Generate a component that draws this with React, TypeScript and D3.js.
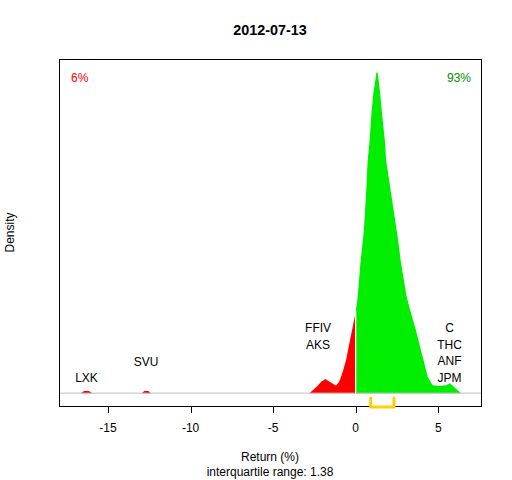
import React from "react";
import * as d3 from "d3";

const title = "2012-07-13";
const xTicks = [-15, -10, -5, 0, 5];
const densX = [-17.0, -16.65, -16.45, -16.15, -15.95, -12.95, -12.8, -12.55, -12.4, -2.8, -2.317, -2.075, -1.833, -1.531, -1.186, -0.986, -0.786, -0.581, -0.381, -0.181, 0, 0.121, 0.284, 0.466, 0.508, 0.629, 0.726, 0.829, 0.968, 1.071, 1.25, 1.295, 1.34, 1.476, 1.573, 1.779, 1.839, 2.142, 2.444, 2.565, 2.747, 3.085, 3.351, 3.654, 3.896, 4.156, 4.356, 4.658, 5.064, 5.469, 5.711, 5.971, 6.376, 6.64];
const densY = [0, 0, 0.0028, 0.0028, 0, 0, 0.0028, 0.0028, 0, 0, 0.0094, 0.0157, 0.019, 0.0147, 0.010, 0.016, 0.0288, 0.0442, 0.067, 0.089, 0.109, 0.129, 0.174, 0.2115, 0.223, 0.268, 0.312, 0.335, 0.379, 0.402, 0.428, 0.43, 0.428, 0.402, 0.379, 0.335, 0.312, 0.268, 0.223, 0.205, 0.174, 0.129, 0.107, 0.084, 0.062, 0.040, 0.022, 0.0107, 0.0094, 0.0107, 0.0134, 0.008, 0, 0];
const pctLeft = "6%";
const pctRight = "93%";
const leftTailLabels = [
  { name: "LXK", x: -16.3, row: 0 },
  { name: "SVU", x: -12.7, row: 1 },
];
const leftStack = ["FFIV", "AKS"];
const rightStack = ["C", "THC", "ANF", "JPM"];
const q1 = 0.91;
const q3 = 2.32;
const iqrText = "interquartile range: 1.38";
const xLabel = "Return (%)";
const yLabel = "Density";

const L = 59, R = 481, T = 59, B = 406;
const font = "'Liberation Sans', Arial, sans-serif";

export default function App() {
  const xmin = -17.02, xmax = 6.64;
  const xpad = (xmax - xmin) * 0.04;
  const x = d3.scaleLinear().domain([xmin - xpad, xmax + xpad]).range([L, R]);
  const ymaxD = d3.max(densY) as number;
  const y = d3.scaleLinear().domain([-0.04 * ymaxD, ymaxD * 1.04]).range([B, T]);

  const pts = densX.map((v, i) => [v, densY[i]] as [number, number]);
  const area = d3.area<[number, number]>().x(d => x(d[0])).y0(y(0)).y1(d => y(d[1]));
  const negPts = pts.filter(p => p[0] <= 0);
  const posPts = pts.filter(p => p[0] >= 0);
  const d0 = densY[densX.indexOf(0)];
  const lineH = 16.6;
  const yBase = y(0);

  return (
    <svg width={512} height={480} style={{ position: "absolute", left: 0, top: 0 }} fontFamily={font}>
      <style>{`body{margin:0}`}</style>
      <rect width={512} height={480} fill="#fff" />
      <text x={(L + R) / 2} y={35} textAnchor="middle" fontWeight="bold" fontSize={14.4}>{title}</text>
      <path d={area(negPts) || ""} fill="#ff0000" />
      <path d={area(posPts) || ""} fill="#00ee00" />
      <line x1={x(0)} x2={x(0)} y1={yBase} y2={y(d0) - 1} stroke="#fff" strokeWidth={1.2} />
      <line x1={L} x2={R} y1={yBase} y2={yBase} stroke="#bebebe" strokeWidth={1} />
      <rect x={L + 0.5} y={T + 0.5} width={R - L} height={B - T} fill="none" stroke="#000" strokeWidth={1} />
      {xTicks.map(t => (
        <g key={t}>
          <line x1={Math.round(x(t)) + 0.5} x2={Math.round(x(t)) + 0.5} y1={B} y2={B + 7} stroke="#000" />
          <text x={x(t)} y={432} textAnchor="middle" fontSize={12}>{t}</text>
        </g>
      ))}
      <path d={`M${x(q1)},${B - 8} L${x(q1)},${B + 1} L${x(q3)},${B + 1} L${x(q3)},${B - 8}`} fill="none" stroke="#ffd000" strokeWidth={3} strokeLinecap="round" strokeLinejoin="round" />
      <text x={L + 12} y={82} fontSize={12} fill="#ff0000">{pctLeft}</text>
      <text x={R - 10} y={82} fontSize={12} fill="#008b00" textAnchor="end">{pctRight}</text>
      {leftTailLabels.map(l => (
        <text key={l.name} x={x(l.x)} y={yBase - 11.5 - l.row * 16} textAnchor="middle" fontSize={12}>{l.name}</text>
      ))}
      {leftStack.map((s, i) => (
        <text key={s} x={x(-2.28)} y={332 + i * lineH} textAnchor="middle" fontSize={12}>{s}</text>
      ))}
      {rightStack.map((s, i) => (
        <text key={s} x={x(5.68)} y={332 + i * lineH} textAnchor="middle" fontSize={12}>{s}</text>
      ))}
      <text x={(L + R) / 2} y={461} textAnchor="middle" fontSize={12}>{xLabel}</text>
      <text x={(L + R) / 2} y={476} textAnchor="middle" fontSize={12}>{iqrText}</text>
      <text transform={`translate(14,${(T + B) / 2}) rotate(-90)`} textAnchor="middle" fontSize={12}>{yLabel}</text>
    </svg>
  );
}
